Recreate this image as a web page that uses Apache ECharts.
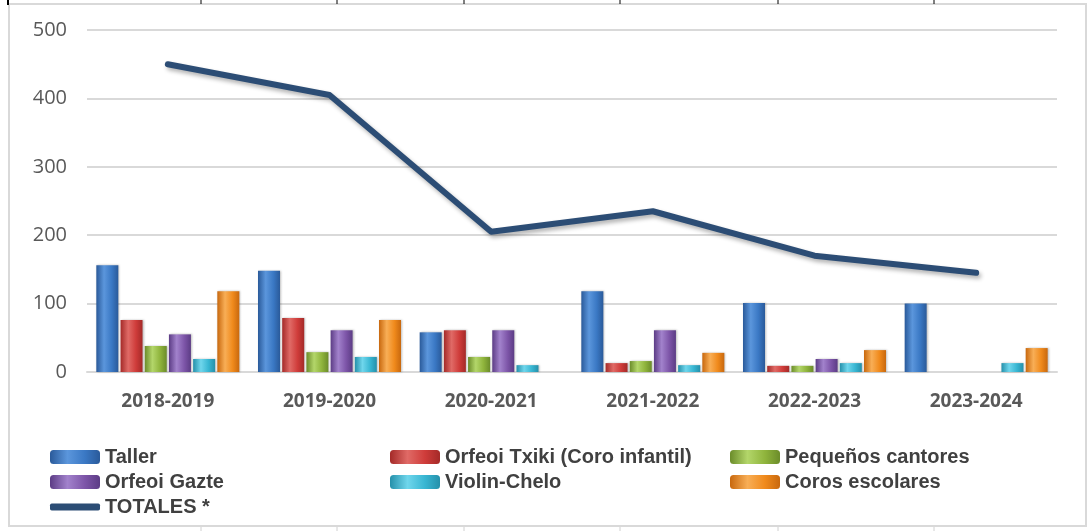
<!DOCTYPE html>
<html>
<head>
<meta charset="utf-8">
<script src="https://cdn.jsdelivr.net/npm/echarts@6/dist/echarts.min.js"></script>
<style>
html,body{margin:0;padding:0;background:#fff;}
#chart{width:1088px;height:531px;}
</style>
</head>
<body>
<div id="chart"></div>
<script>
var categories = ['2018-2019','2019-2020','2020-2021','2021-2022','2022-2023','2023-2024'];
var taller = [156, 148, 58, 118, 101, 100];
var orfeoiTxiki = [76, 79, 61, 13, 9, 0];
var pequenos = [38, 29, 22, 16, 9, 0];
var orfeoiGazte = [55, 61, 61, 61, 19, 0];
var violinChelo = [19, 22, 10, 10, 13, 13];
var corosEscolares = [118, 76, 0, 28, 32, 35];
var totales = [450, 405, 205, 235, 170, 145];
var yTicks = [0, 100, 200, 300, 400, 500];

var FONT = "'Open Sans', 'DejaVu Sans', sans-serif";
var LFONT = "'Liberation Sans Narrow', 'Liberation Sans', Arial, sans-serif";

function grad(dark, mid, light) {
  return new echarts.graphic.LinearGradient(0, 0, 1, 0, [
    {offset: 0, color: dark},
    {offset: 0.35, color: light},
    {offset: 0.7, color: mid},
    {offset: 1, color: dark}
  ]);
}
var colors = {
  taller: grad('#2a5a9a', '#3a78c4', '#5b96dc'),
  txiki: grad('#a42a28', '#cf3c3a', '#e06a66'),
  peq: grad('#6b8c2a', '#8fb43c', '#b3d66a'),
  gazte: grad('#5c3c85', '#7d55a8', '#a282cc'),
  violin: grad('#2590aa', '#38b6d2', '#6fd6ec'),
  coros: grad('#c8680e', '#f08a1c', '#f8ae56')
};

function bar(name, data, color) {
  return {
    name: name, type: 'bar', data: data, barWidth: 22, barGap: '10%',
    itemStyle: {color: color, shadowColor: 'rgba(0,0,0,0.25)', shadowBlur: 2, shadowOffsetX: 1, shadowOffsetY: 0}
  };
}

var chart = echarts.init(document.getElementById('chart'), null, {renderer: 'canvas'});
var legendText = {fontFamily: LFONT, fontWeight: 'bold', fontSize: 20, lineHeight: 20, color: '#404040'};
function legend(left, top, h, names) {
  return {left: left, top: top, orient: 'vertical', padding: 0, itemWidth: 50, itemHeight: h, itemGap: 5,
    icon: 'roundRect', textStyle: legendText, data: names};
}
var option = {
  animation: false,
  backgroundColor: '#fff',
  graphic: [
    {type: 'rect', shape: {x: 9, y: 4, width: 1077, height: 522}, style: {fill: 'none', stroke: '#d9d9d9', lineWidth: 2}, z: -1},
    {type: 'line', shape: {x1: 8, y1: 0, x2: 8, y2: 5}, style: {stroke: '#000', lineWidth: 2}},
    {type: 'line', shape: {x1: 201, y1: 0, x2: 201, y2: 4}, style: {stroke: '#000', lineWidth: 1}},
    {type: 'line', shape: {x1: 337, y1: 0, x2: 337, y2: 4}, style: {stroke: '#000', lineWidth: 1}},
    {type: 'line', shape: {x1: 464, y1: 0, x2: 464, y2: 4}, style: {stroke: '#000', lineWidth: 1}},
    {type: 'line', shape: {x1: 620, y1: 0, x2: 620, y2: 4}, style: {stroke: '#000', lineWidth: 1}},
    {type: 'line', shape: {x1: 778, y1: 0, x2: 778, y2: 4}, style: {stroke: '#000', lineWidth: 1}},
    {type: 'line', shape: {x1: 934, y1: 0, x2: 934, y2: 4}, style: {stroke: '#000', lineWidth: 1}},
    {type: 'line', shape: {x1: 201, y1: 527, x2: 201, y2: 531}, style: {stroke: '#d0d0d0', lineWidth: 1}},
    {type: 'line', shape: {x1: 337, y1: 527, x2: 337, y2: 531}, style: {stroke: '#d0d0d0', lineWidth: 1}},
    {type: 'line', shape: {x1: 464, y1: 527, x2: 464, y2: 531}, style: {stroke: '#d0d0d0', lineWidth: 1}},
    {type: 'line', shape: {x1: 620, y1: 527, x2: 620, y2: 531}, style: {stroke: '#d0d0d0', lineWidth: 1}},
    {type: 'line', shape: {x1: 778, y1: 527, x2: 778, y2: 531}, style: {stroke: '#d0d0d0', lineWidth: 1}},
    {type: 'line', shape: {x1: 934, y1: 527, x2: 934, y2: 531}, style: {stroke: '#d0d0d0', lineWidth: 1}}
  ],
  grid: {left: 87, right: 31, top: 30, bottom: 159, containLabel: false},
  legend: [
    legend(50, 447, 14, ['Taller', 'Orfeoi Gazte']),
    legend(50, 497, 7, ['TOTALES *']),
    legend(390, 447, 14, ['Orfeoi Txiki (Coro infantil)', 'Violin-Chelo']),
    legend(730, 447, 14, ['Pequeños cantores', 'Coros escolares'])
  ],
  xAxis: {
    type: 'category', data: categories,
    axisLine: {show: true, lineStyle: {color: '#d9d9d9', width: 2}},
    axisTick: {show: false},
    axisLabel: {fontFamily: FONT, fontWeight: 'bold', fontSize: 19, color: '#595959', margin: 20}
  },
  yAxis: {
    type: 'value', min: yTicks[0], max: yTicks[yTicks.length - 1], interval: 100,
    axisLine: {show: false}, axisTick: {show: false},
    axisLabel: {fontFamily: FONT, fontSize: 20, color: '#595959', margin: 20},
    splitLine: {lineStyle: {color: '#d9d9d9', width: 2}}
  },
  series: [
    bar('Taller', taller, colors.taller),
    bar('Orfeoi Txiki (Coro infantil)', orfeoiTxiki, colors.txiki),
    bar('Pequeños cantores', pequenos, colors.peq),
    bar('Orfeoi Gazte', orfeoiGazte, colors.gazte),
    bar('Violin-Chelo', violinChelo, colors.violin),
    bar('Coros escolares', corosEscolares, colors.coros),
    {
      name: 'TOTALES *', type: 'line', data: totales, symbol: 'none', z: 5,
      itemStyle: {color: '#2c4d75'},
      lineStyle: {color: '#2c4d75', width: 6, cap: 'round', join: 'round',
        shadowColor: 'rgba(0,0,0,0.3)', shadowBlur: 4, shadowOffsetX: 2, shadowOffsetY: 3}
    }
  ]
};
chart.setOption(option);
</script>
</body>
</html>
